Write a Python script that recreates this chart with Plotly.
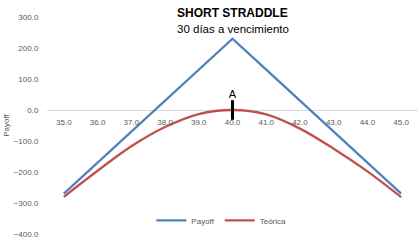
import plotly.graph_objects as go

strikes = [35, 36, 37, 38, 39, 40, 41, 42, 43, 44, 45]
tick_labels = [f"{s:.1f}" for s in strikes]
payoff = [-270, -170, -70, 30, 130, 230, 130, 30, -70, -170, -270]
teorica = [-280, -196, -117, -55, -13, 0, -14, -60, -125, -198, -281]
marker_x = [40]
marker_y = [0]
marker_text = ["A"]

BLUE = "#4F81BD"
RED = "#C0504D"
FONT = "Liberation Sans, Arial, sans-serif"

fig = go.Figure()
fig.add_trace(go.Scatter(x=strikes, y=payoff, name="Payoff", mode="lines",
                         line=dict(color=BLUE, width=2.3)))
fig.add_trace(go.Scatter(x=strikes, y=teorica, name="Teórica", mode="lines",
                         line=dict(color=RED, width=2.3, shape="spline", smoothing=1.0)))
fig.add_trace(go.Scatter(x=marker_x, y=marker_y, mode="markers+text", text=marker_text,
                         textposition="top center", showlegend=False,
                         textfont=dict(size=11, color="black", family=FONT),
                         marker=dict(symbol="line-ns", size=14, color="black",
                                     line=dict(color="black", width=3))))

fig.update_layout(
    width=420, height=240,
    margin=dict(l=47, r=2, t=17, b=6),
    paper_bgcolor="white", plot_bgcolor="white",
    font=dict(family=FONT, size=8, color="#595959"),
    showlegend=True,
    legend=dict(orientation="h", x=0.47, xanchor="center", y=0.0625, yanchor="middle",
                font=dict(size=8, color="#595959"), bgcolor="rgba(0,0,0,0)",
                itemwidth=30, tracegroupgap=0),
    xaxis=dict(range=[34.5, 45.5], tickvals=strikes, ticktext=tick_labels,
               showgrid=False, zeroline=False, showline=False,
               anchor="free", position=4 / 7,
               ticks="outside", ticklen=4, tickcolor="rgba(0,0,0,0)",
               tickfont=dict(size=8, color="#595959")),
    yaxis=dict(range=[-400, 300], tickvals=list(range(-400, 301, 100)),
               tickformat=".1f", showgrid=False, zeroline=True,
               zerolinecolor="#D9D9D9", zerolinewidth=1, showline=False,
               ticks="outside", ticklen=6, tickcolor="rgba(0,0,0,0)",
               tickfont=dict(size=8, color="#595959"),
               title=dict(text="Payoff", font=dict(size=8, color="#595959"), standoff=2)),
    annotations=[
        dict(text="<b>SHORT STRADDLE</b>", x=0.5, xref="paper", y=13, yref="paper",
             showarrow=False, font=dict(size=12, color="black", family=FONT),
             yanchor="middle"),
        dict(text="30 días a vencimiento", x=0.5, xref="paper", y=29, yref="paper",
             showarrow=False, font=dict(size=11.5, color="black", family=FONT),
             yanchor="middle"),
    ],
)

# convert annotation y (pixels from top) into paper fractions
plot_h = 240 - 17 - 6
for ann in fig.layout.annotations:
    px_from_top = ann.y
    ann.y = (240 - 6 - px_from_top) / plot_h

fig.write_html("out.html")
